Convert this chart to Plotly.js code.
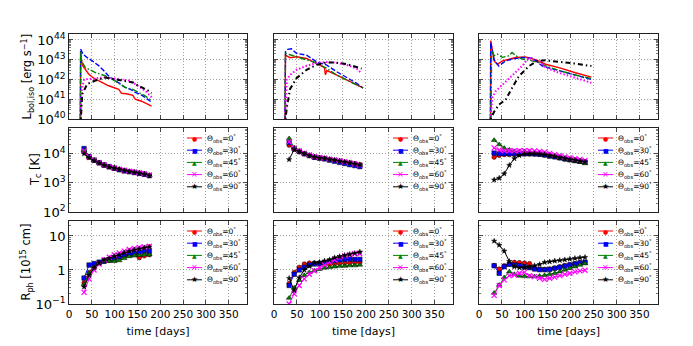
<!DOCTYPE html>
<html>
<head>
<meta charset="utf-8">
<script src="https://cdn.plot.ly/plotly-3.0.1.min.js"></script>
<style>
  html, body { margin: 0; padding: 0; background: #fff; }
  #chart { width: 693px; height: 346px; }
</style>
</head>
<body>
<div id="chart"></div>
<script>
// Viewing angles (one series per angle in every panel)
const angles = [0, 30, 45, 60, 90];

// ---- Row 1: bolometric light curves, time [days] and L [erg/s] ----
// model 1
const lb1T_0  = [25, 25.5, 30, 43, 55, 65, 87, 109, 115, 126, 140, 145, 159, 181];
const lb1L_0  = [1e40, 1.58e43, 5.01e42, 1.9e42, 1.12e42, 8.51e41, 4.79e41, 3.16e41, 2.0e41, 1.9e41, 1.58e41, 1.0e41, 7.94e40, 4.47e40];
const lb1T_30 = [25, 25.5, 30, 40, 51, 65, 76, 90, 98, 110, 123, 135, 145, 160, 181];
const lb1L_30 = [1e40, 3.47e43, 2.0e43, 1.26e43, 8.71e42, 5.01e42, 2.82e42, 1.26e42, 1.0e42, 6.31e41, 3.98e41, 3.16e41, 2.24e41, 1.58e41, 7.08e40];
const lb1T_45 = [25, 25.5, 28, 36, 58, 80, 101, 123, 140, 145, 165, 181];
const lb1L_45 = [1e40, 2.82e43, 7.94e42, 3.98e42, 2.24e42, 1.51e42, 8.51e41, 3.98e41, 3.16e41, 2.69e41, 1.58e41, 8.51e40];
const lb1T_60 = [25, 28, 33, 50, 76, 100, 115, 130, 145, 167, 181];
const lb1L_60 = [1e40, 3.16e41, 1.0e42, 1.12e42, 1.26e42, 1.12e42, 1.0e42, 8.91e41, 5.89e41, 2.69e41, 1.26e41];
const lb1T_90 = [26, 29, 40, 58, 80, 101, 123, 140, 152, 174, 181];
const lb1L_90 = [1e40, 1.82e41, 5.89e41, 8.91e41, 1.26e42, 1.0e42, 8.51e41, 7.08e41, 4.79e41, 2.69e41, 2.0e41];
// model 2
const lb2T_0  = [24, 25, 35, 49, 71, 93, 110, 112, 115, 136, 158, 180, 194];
const lb2L_0  = [1e40, 1.7e43, 1.26e43, 1.41e43, 1.15e43, 6.31e42, 3.98e42, 1.7e42, 2.82e42, 1.7e42, 9.33e41, 5.62e41, 3.72e41];
const lb2T_30 = [24, 25, 30, 38, 49, 71, 93, 114, 136, 158, 180, 194];
const lb2L_30 = [1e40, 2.51e43, 3.31e43, 3.55e43, 2.09e43, 1.7e43, 7.76e42, 5.5e42, 2.51e42, 1.26e42, 6.46e41, 3.72e41];
const lb2T_45 = [24, 25, 35, 49, 76, 93, 114, 136, 158, 180, 194];
const lb2L_45 = [1e40, 2.09e43, 1.78e43, 1.41e43, 9.33e42, 6.76e42, 3.72e42, 1.7e42, 9.33e41, 5.62e41, 3.72e41];
const lb2T_60 = [24, 28, 35, 49, 71, 93, 114, 136, 158, 180, 191];
const lb2L_60 = [1e40, 9.33e41, 1.7e42, 3.09e42, 4.9e42, 6.76e42, 7.59e42, 7.08e42, 5.5e42, 3.55e42, 2.0e42];
const lb2T_90 = [25, 28, 35, 49, 71, 93, 114, 136, 158, 180, 191];
const lb2L_90 = [1e40, 3.8e40, 3.31e41, 1.15e42, 3.09e42, 5.5e42, 7.24e42, 7.08e42, 6.03e42, 4.27e42, 3.55e42];
// model 3
const lb3T_0  = [25, 25.5, 33, 40, 51, 65, 80, 101, 123, 145, 174, 210, 245];
const lb3L_0  = [1e40, 9.12e43, 8.71e42, 5.89e42, 8.71e42, 1.07e43, 1.29e43, 1.38e43, 1.0e43, 5.89e42, 3.98e42, 2.19e42, 1.32e42];
const lb3T_30 = [25, 25.5, 33, 43, 58, 72, 94, 116, 138, 174, 210, 245];
const lb3L_30 = [1e40, 7.59e43, 1.0e43, 4.79e42, 8.71e42, 1.07e43, 1.29e43, 1.2e43, 4.79e42, 2.88e42, 1.66e42, 1.0e42];
const lb3T_45 = [26, 27.5, 33, 40, 51, 65, 72, 80, 94, 109, 130, 145, 174, 210, 245];
const lb3L_45 = [1e40, 2.82e43, 1.58e43, 1.91e43, 1.32e43, 1.58e43, 2.34e43, 1.58e43, 1.07e43, 9.55e42, 7.24e42, 4.79e42, 2.88e42, 1.66e42, 1.12e42];
const lb3T_60 = [25, 29, 36, 51, 72, 94, 109, 120, 130, 145, 174, 210, 245];
const lb3L_60 = [1e40, 1.15e41, 2.51e41, 5.5e41, 1.48e42, 4.79e42, 1.29e43, 8.91e42, 8.91e42, 3.98e42, 2.19e42, 1.23e42, 6.76e41];
const lb3T_90 = [25, 33, 43, 58, 72, 87, 109, 127, 145, 174, 210, 245];
const lb3L_90 = [1e40, 2.34e40, 5.25e40, 9.33e40, 3.72e41, 1.48e42, 4.79e42, 8.71e42, 9.33e42, 7.94e42, 6.31e42, 4.79e42];

// ---- Rows 2 and 3: sampled epochs [days] ----
const days1 = [33, 44, 55, 66, 77, 88, 99, 110, 121, 132, 143, 154, 165, 176];
const days2 = [33, 44, 55, 66, 77, 88, 99, 110, 121, 132, 143, 154, 165, 176, 187];
const days3 = [33, 44, 55, 66, 77, 88, 99, 110, 121, 132, 143, 154, 165, 176, 187, 198, 209, 220, 231];

// colour temperature T_c [K]
const tc1_0  = [12000, 7600, 5900, 4800, 4000, 3500, 3200, 2900, 2650, 2450, 2300, 2150, 2000, 1800];
const tc1_30 = [15000, 8000, 6000, 4900, 4100, 3600, 3150, 2800, 2550, 2400, 2250, 2100, 1950, 1750];
const tc1_45 = [13000, 7800, 5900, 4850, 4050, 3550, 3200, 2900, 2650, 2450, 2300, 2150, 2000, 1800];
const tc1_60 = [12500, 7700, 6000, 4900, 4100, 3600, 3250, 2950, 2700, 2500, 2350, 2200, 2050, 1850];
const tc1_90 = [10000, 7300, 5800, 4800, 4000, 3500, 3200, 2900, 2650, 2450, 2300, 2150, 2000, 1800];

const tc2_0  = [19500, 14000, 11500, 9800, 8600, 7600, 7100, 6800, 6300, 5900, 5500, 5100, 4800, 4500, 4200];
const tc2_30 = [24000, 15000, 12000, 10000, 8600, 7500, 7000, 6600, 6000, 5500, 5000, 4600, 4200, 3900, 3600];
const tc2_45 = [33000, 16000, 12000, 10000, 8700, 7600, 7100, 6800, 6300, 5900, 5500, 5100, 4800, 4400, 4000];
const tc2_60 = [26000, 15500, 12500, 10500, 9000, 7900, 7400, 7000, 6500, 6100, 5700, 5300, 4900, 4500, 4100];
const tc2_90 = [6300, 14000, 12000, 10000, 8700, 7700, 7200, 6900, 6400, 6000, 5600, 5200, 4900, 4500, 4200];

const tc3_0  = [7600, 8700, 9300, 9300, 9300, 9500, 9700, 9700, 9700, 9500, 9000, 8300, 7800, 7200, 6600, 6200, 5800, 5500, 5300];
const tc3_30 = [10500, 10000, 10000, 10000, 10000, 10000, 10000, 10000, 9800, 9500, 9000, 8300, 7800, 7200, 6600, 6200, 5800, 5500, 5200];
const tc3_45 = [29000, 20500, 15500, 13500, 12000, 12000, 12000, 11500, 11000, 10700, 10000, 8700, 8200, 7100, 6600, 5900, 5500, 5100, 4600];
const tc3_60 = [15800, 13500, 12600, 12600, 12600, 12600, 12600, 12600, 12300, 12000, 11200, 10200, 9300, 8500, 7800, 7200, 6700, 6300, 5900];
const tc3_90 = [1260, 1450, 2050, 4000, 6800, 8700, 9800, 10000, 10000, 9800, 9300, 8700, 8100, 7500, 6900, 6400, 6000, 5600, 5200];

// photospheric radius R_ph [1e15 cm]
const rph1_0  = [0.42, 0.85, 1.3, 1.6, 1.8, 1.9, 2.0, 2.3, 2.6, 2.8, 2.9, 2.3, 2.6, 2.8];
const rph1_30 = [0.58, 1.4, 1.55, 1.7, 1.8, 2.0, 2.2, 2.5, 2.8, 3.0, 3.1, 3.3, 3.5, 3.6];
const rph1_45 = [0.38, 0.8, 1.2, 1.6, 1.8, 1.85, 1.8, 1.9, 2.2, 2.5, 2.6, 2.7, 2.8, 2.8];
const rph1_60 = [0.22, 0.55, 1.0, 1.5, 2.0, 2.4, 2.8, 3.2, 3.6, 4.0, 4.3, 4.6, 4.8, 5.0];
const rph1_90 = [0.32, 0.7, 1.15, 1.6, 2.0, 2.2, 2.5, 2.8, 3.2, 3.6, 3.9, 4.2, 4.5, 4.8];

const rph2_0  = [0.4, 0.85, 1.2, 1.5, 1.6, 1.6, 1.55, 1.5, 1.45, 1.5, 1.55, 1.6, 1.6, 1.65, 1.65];
const rph2_30 = [0.35, 0.75, 1.0, 1.2, 1.4, 1.5, 1.55, 1.65, 1.8, 1.9, 2.0, 2.05, 2.1, 2.05, 2.05];
const rph2_45 = [0.15, 0.3, 0.5, 0.7, 0.85, 0.95, 1.05, 1.15, 1.2, 1.25, 1.3, 1.3, 1.35, 1.35, 1.4];
const rph2_60 = [0.1, 0.2, 0.35, 0.55, 0.75, 0.95, 1.15, 1.4, 1.7, 2.0, 2.3, 2.6, 2.8, 3.0, 3.0];
const rph2_90 = [0.57, 0.25, 0.6, 1.0, 1.3, 1.6, 1.7, 1.85, 2.0, 2.3, 2.5, 2.7, 2.9, 3.1, 3.4];

const rph3_0  = [1.34, 1.07, 1.34, 1.47, 1.68, 1.65, 1.6, 1.54, 1.1, 1.05, 1.05, 1.07, 1.15, 1.25, 1.35, 1.45, 1.55, 1.65, 1.72];
const rph3_30 = [1.34, 0.8, 1.25, 1.47, 1.4, 1.34, 1.25, 1.17, 1.07, 1.02, 1.02, 1.04, 1.12, 1.2, 1.3, 1.4, 1.5, 1.6, 1.68];
const rph3_45 = [0.21, 0.36, 0.6, 0.89, 0.75, 0.67, 0.65, 0.64, 0.64, 0.66, 0.7, 0.75, 0.8, 0.89, 1.0, 1.12, 1.25, 1.4, 1.54];
const rph3_60 = [0.18, 0.35, 0.51, 0.68, 0.71, 0.8, 0.85, 0.68, 0.64, 0.57, 0.53, 0.57, 0.62, 0.68, 0.74, 0.8, 0.88, 0.94, 0.98];
const rph3_90 = [7.1, 5.4, 3.6, 1.8, 1.25, 1.17, 1.17, 1.25, 1.34, 1.45, 1.68, 1.75, 1.85, 1.92, 2.0, 2.1, 2.2, 2.3, 2.36];

// ---- styles ----
const W = 693, H = 346;
const colors  = ['#ff0000', '#0000ff', '#008000', '#ff00ff', '#000000'];
const lcDash  = ['solid', '5px,2px', '6px,2px,1.5px,2px', '1.5px,2px', '1.5px,3px,5px,3px'];
const lcWidth = [1.4, 1.4, 1.4, 2, 2];
const symbols = ['circle', 'square', 'triangle-up', 'x-thin', 'star'];
const msizes  = [4.5, 4.5, 5, 5, 4];
const glyphs  = ['●', '■', '▲', '×', '★'];

const colPx = [[69, 247], [274, 453], [479, 658]];
const rowPx = [[34, 119], [128, 212], [221, 304]];
const yRanges = [[40, 44.3], [2, 4.88], [-1, 1.44]];
const yTitles = ['L<sub>bol,iso</sub> [erg s<sup>−1</sup>]', 'T<sub>c</sub> [K]', 'R<sub>ph</sub> [10<sup>15</sup> cm]'];
const yTitleX = [28, 35, 26];

const lbT = [[lb1T_0, lb1T_30, lb1T_45, lb1T_60, lb1T_90],
             [lb2T_0, lb2T_30, lb2T_45, lb2T_60, lb2T_90],
             [lb3T_0, lb3T_30, lb3T_45, lb3T_60, lb3T_90]];
const lbL = [[lb1L_0, lb1L_30, lb1L_45, lb1L_60, lb1L_90],
             [lb2L_0, lb2L_30, lb2L_45, lb2L_60, lb2L_90],
             [lb3L_0, lb3L_30, lb3L_45, lb3L_60, lb3L_90]];
const days = [days1, days2, days3];
const tc = [[tc1_0, tc1_30, tc1_45, tc1_60, tc1_90],
            [tc2_0, tc2_30, tc2_45, tc2_60, tc2_90],
            [tc3_0, tc3_30, tc3_45, tc3_60, tc3_90]];
const rph = [[rph1_0, rph1_30, rph1_45, rph1_60, rph1_90],
             [rph2_0, rph2_30, rph2_45, rph2_60, rph2_90],
             [rph3_0, rph3_30, rph3_45, rph3_60, rph3_90]];

const font = { family: 'DejaVu Sans, sans-serif', color: '#000' };
const ax = p => (p ? String(p + 1) : '');

const traces = [];
const layout = {
  width: W, height: H,
  margin: { l: 0, r: 0, t: 0, b: 0 },
  paper_bgcolor: '#fff', plot_bgcolor: '#fff',
  showlegend: false,
  font: Object.assign({ size: 10 }, font),
  annotations: [], shapes: []
};

for (let r = 0; r < 3; r++) {
  for (let c = 0; c < 3; c++) {
    const p = r * 3 + c;
    const xa = 'x' + ax(p), ya = 'y' + ax(p);

    // series
    for (let i = 0; i < 5; i++) {
      if (r === 0) {
        traces.push({
          x: lbT[c][i], y: lbL[c][i], xaxis: xa, yaxis: ya,
          type: 'scatter', mode: 'lines', hoverinfo: 'skip',
          line: { color: colors[i], width: lcWidth[i], dash: lcDash[i] }
        });
      } else {
        const vals = r === 1 ? tc[c][i] : rph[c][i];
        const edge = symbols[i] === 'x-thin' ? colors[i] : '#000';
        traces.push({
          x: days[c], y: vals, xaxis: xa, yaxis: ya,
          type: 'scatter', mode: 'lines+markers', hoverinfo: 'skip',
          line: { color: colors[i], width: 1 },
          marker: { symbol: symbols[i], size: msizes[i], color: colors[i],
                    line: { color: edge, width: symbols[i] === 'x-thin' ? 1.2 : 0.5 } }
        });
      }
    }

    const common = {
      showline: true, linecolor: '#222', linewidth: 1.3, mirror: 'allticks',
      ticks: 'inside', ticklen: 4, tickcolor: '#222', tickwidth: 0.8,
      showgrid: true, gridcolor: '#8a8a8a', griddash: '1px,2px', gridwidth: 0.8,
      zeroline: false, automargin: false,
      tickfont: Object.assign({ size: 10.5 }, font)
    };

    layout['xaxis' + ax(p)] = Object.assign({}, common, {
      domain: [colPx[c][0] / W, colPx[c][1] / W],
      anchor: ya, range: [0, 390], tick0: 0, dtick: 50,
      showticklabels: r === 2,
      title: r === 2 ? { text: 'time [days]', standoff: 8, font: Object.assign({ size: 11 }, font) } : { text: '' }
    });
    layout['yaxis' + ax(p)] = Object.assign({}, common, {
      domain: [1 - rowPx[r][1] / H, 1 - rowPx[r][0] / H],
      anchor: xa, type: 'log', range: yRanges[r], dtick: 1,
      exponentformat: 'power', showticklabels: c === 0,
      minor: { ticks: 'inside', ticklen: 2, tickcolor: '#222', tickwidth: 0.6, showgrid: false }
    });

    // y-axis title of each row, placed beside the tick labels
    if (c === 0) {
      layout.annotations.push({
        xref: 'paper', yref: 'paper',
        x: yTitleX[r] / W, y: 1 - (rowPx[r][0] + rowPx[r][1]) / 2 / H,
        xanchor: 'center', yanchor: 'middle', textangle: -90, showarrow: false,
        text: yTitles[r], font: Object.assign({ size: 11.5 }, font)
      });
    }

    // legend for the T_c and R_ph panels
    if (r > 0) {
      const right = colPx[c][1];
      for (let i = 0; i < 5; i++) {
        const py = rowPx[r][0] + 10 + 12.2 * i;
        const yp = 1 - py / H;
        layout.shapes.push({
          type: 'line', xref: 'paper', yref: 'paper',
          x0: (right - 60) / W, x1: (right - 45) / W, y0: yp, y1: yp,
          line: { color: colors[i], width: 1 }
        });
        layout.annotations.push({
          xref: 'paper', yref: 'paper', x: (right - 52.5) / W, y: yp,
          xanchor: 'center', yanchor: 'middle', showarrow: false,
          text: glyphs[i], font: { family: 'DejaVu Sans', size: i >= 3 ? 8 : 6, color: colors[i] }
        });
        layout.annotations.push({
          xref: 'paper', yref: 'paper', x: (right - 42) / W, y: yp,
          xanchor: 'left', yanchor: 'middle', showarrow: false,
          text: 'Θ<sub>obs</sub>=' + angles[i] + '<sup>°</sup>',
          font: Object.assign({ size: 7.5 }, font)
        });
      }
    }
  }
}

Plotly.newPlot('chart', traces, layout, { displayModeBar: false, staticPlot: true });
</script>
</body>
</html>
